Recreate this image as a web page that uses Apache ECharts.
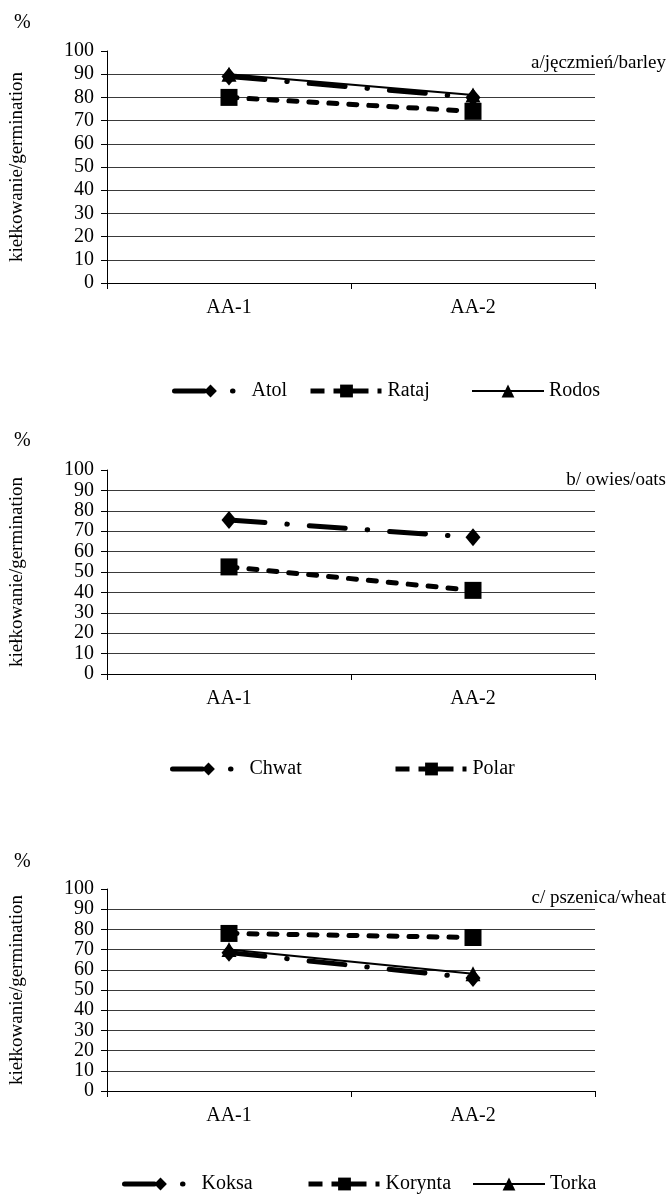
<!DOCTYPE html>
<html>
<head>
<meta charset="utf-8">
<script src="https://cdn.jsdelivr.net/npm/echarts@6/dist/echarts.min.js"></script>
<style>
html,body{margin:0;padding:0;background:#fff;}
#chart{width:667px;height:1196px;}
</style>
</head>
<body>
<div id="chart"></div>
<script>
// ---- data ----
const categories = ['AA-1', 'AA-2'];
const yAxisName = 'kiełkowanie/germination';
const unitLabel = '%';
const panelTitles = ['a/jęczmień/barley', 'b/ owies/oats', 'c/ pszenica/wheat'];

const namesA = ['Atol', 'Rataj', 'Rodos'];
const atol  = [89, 80];
const rataj = [80, 74];
const rodos = [90, 81];

const namesB = ['Chwat', 'Polar'];
const chwat = [75.5, 67];
const polar = [52.5, 41];

const namesC = ['Koksa', 'Korynta', 'Torka'];
const koksa   = [68.5, 56];
const korynta = [78, 76];
const torka   = [70, 58];

// ---- styles ----
const FONT = 'Liberation Serif';
const FS = 20;
const styles = {
  dashdot: { symbol: 'diamond', symbolSize: [15, 18], lineStyle: { width: 5, type: [36, 22, 0.5, 22], cap: 'round' },
             legendLine: { width: 5, type: [30, 28, 0.5, 40], cap: 'round' } },
  dashed:  { symbol: 'rect', symbolSize: 17, lineStyle: { width: 5, type: [8, 12], cap: 'round' },
             legendLine: { width: 5, type: [14, 9, 35, 9, 4, 50], cap: 'butt' } },
  solid:   { symbol: 'triangle', symbolSize: 15, lineStyle: { width: 2, type: 'solid' },
             legendLine: { width: 2, type: 'solid' } }
};

const panels = [
  { top: 51, height: 232, title: panelTitles[0], titleTop: 54, pctTop: 13, legendTop: 381,
    series: [[namesA[0], atol, 'dashdot'], [namesA[1], rataj, 'dashed'], [namesA[2], rodos, 'solid']],
    legendLeft: [172, 308, 471] },
  { top: 470, height: 204, title: panelTitles[1], titleTop: 471, pctTop: 431, legendTop: 759,
    series: [[namesB[0], chwat, 'dashdot'], [namesB[1], polar, 'dashed']],
    legendLeft: [170, 393] },
  { top: 889, height: 202, title: panelTitles[2], titleTop: 889, pctTop: 852, legendTop: 1174,
    series: [[namesC[0], koksa, 'dashdot'], [namesC[1], korynta, 'dashed'], [namesC[2], torka, 'solid']],
    legendLeft: [122, 306, 472] }
];

const option = {
  animation: false,
  backgroundColor: '#fff',
  textStyle: { fontFamily: FONT, color: '#000' },
  grid: [], xAxis: [], yAxis: [], series: [], title: [], legend: []
};

panels.forEach((p, i) => {
  option.grid.push({ left: 106, right: 72, top: p.top, height: p.height, containLabel: false });
  option.xAxis.push({
    type: 'category', gridIndex: i, data: categories, boundaryGap: true,
    axisLine: { show: true, lineStyle: { color: '#000', width: 1 } },
    axisTick: { show: true, length: 6, lineStyle: { color: '#000' } },
    axisLabel: { color: '#000', fontFamily: FONT, fontSize: FS, margin: 15 },
    splitLine: { show: false }
  });
  option.yAxis.push({
    type: 'value', gridIndex: i, min: 0, max: 100, interval: 10,
    name: yAxisName, nameLocation: 'middle', nameGap: 80, nameRotate: 90,
    nameTextStyle: { color: '#000', fontFamily: FONT, fontSize: 19 },
    axisLine: { show: true, lineStyle: { color: '#000', width: 1 } },
    axisTick: { show: true, length: 6, lineStyle: { color: '#000' } },
    axisLabel: { color: '#000', fontFamily: FONT, fontSize: FS, margin: 13 },
    splitLine: { show: true, showMaxLine: false, showMinLine: false, lineStyle: { color: '#3a3a3a', width: 1 } }
  });
  option.title.push({ text: unitLabel, left: 14, top: p.pctTop,
    textStyle: { fontFamily: FONT, fontSize: FS, fontWeight: 'normal', color: '#000' }, padding: 0 });
  option.title.push({ text: p.title, right: 1, top: p.titleTop,
    textStyle: { fontFamily: FONT, fontSize: 19, fontWeight: 'normal', color: '#000' }, padding: 0 });
  p.series.forEach((s, k) => {
    const st = styles[s[2]];
    option.series.push({
      name: s[0], type: 'line', xAxisIndex: i, yAxisIndex: i, data: s[1],
      symbol: st.symbol, symbolSize: st.symbolSize, showSymbol: true,
      itemStyle: { color: '#000' },
      lineStyle: Object.assign({ color: '#000' }, st.lineStyle),
      z: 2 + k
    });
    option.legend.push({
      data: [s[0]], left: p.legendLeft[k], top: p.legendTop, orient: 'horizontal',
      itemWidth: 72, itemHeight: 16, padding: 0,
      lineStyle: Object.assign({ color: '#000' }, st.legendLine),
      itemStyle: { color: '#000' },
      textStyle: { fontFamily: FONT, fontSize: FS, color: '#000' }
    });
  });
});

const chart = echarts.init(document.getElementById('chart'), null, { renderer: 'canvas' });
chart.setOption(option);
</script>
</body>
</html>
